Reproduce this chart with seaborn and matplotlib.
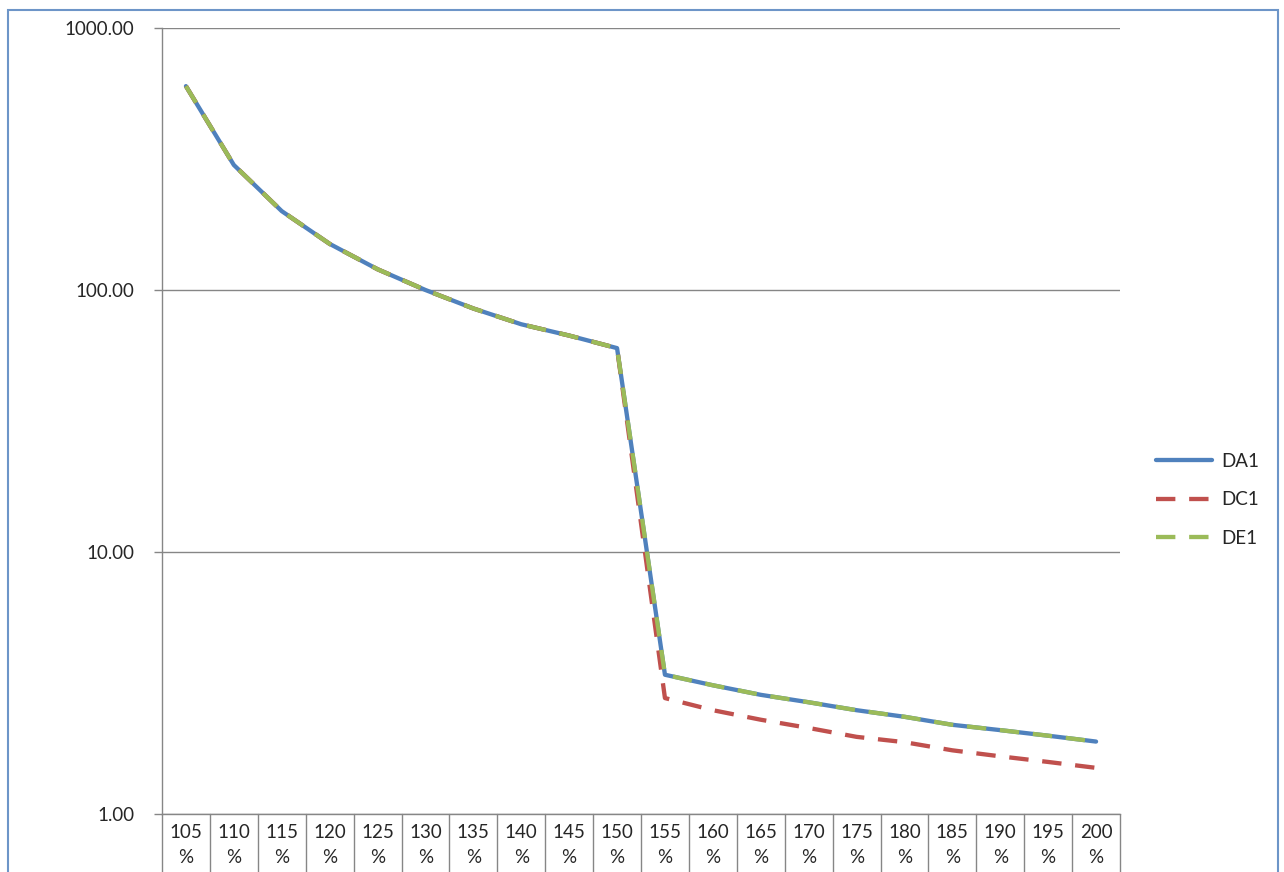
import matplotlib
matplotlib.use("Agg")
import numpy as np
import pandas as pd
import matplotlib.pyplot as plt
import matplotlib.transforms as mtransforms
from matplotlib.patches import Rectangle
import seaborn as sns

# data
categories = ["105%", "110%", "115%", "120%", "125%", "130%", "135%", "140%", "145%", "150%",
              "155%", "160%", "165%", "170%", "175%", "180%", "185%", "190%", "195%", "200%"]
tick_labels = ["105\n%", "110\n%", "115\n%", "120\n%", "125\n%", "130\n%", "135\n%", "140\n%",
               "145\n%", "150\n%", "155\n%", "160\n%", "165\n%", "170\n%", "175\n%", "180\n%",
               "185\n%", "190\n%", "195\n%", "200\n%"]
da1 = [600, 300, 200, 150, 120, 100, 85, 74, 67, 60,
       3.4, 3.1, 2.85, 2.67, 2.49, 2.35, 2.19, 2.09, 1.99, 1.89]
dc1 = [600, 300, 200, 150, 120, 100, 85, 74, 67, 60,
       2.77, 2.49, 2.29, 2.13, 1.97, 1.88, 1.75, 1.66, 1.58, 1.5]
de1 = [600, 300, 200, 150, 120, 100, 85, 74, 67, 60,
       3.4, 3.1, 2.85, 2.67, 2.49, 2.35, 2.19, 2.09, 1.99, 1.89]

series_names = ["DA1", "DC1", "DE1"]
colors = ["#4F81BD", "#C0504D", "#9BBB59"]

sns.set_theme(style="white")
plt.rcParams['font.family'] = ['Lato', 'DejaVu Sans']
plt.rcParams['font.size'] = 13.5

df = pd.DataFrame({
    "cat": categories * 3,
    "value": da1 + dc1 + de1,
    "series": ["DA1"] * 20 + ["DC1"] * 20 + ["DE1"] * 20,
})

fig = plt.figure(figsize=(12.84, 8.72), dpi=100)
ax = fig.add_axes([162 / 1284, 58 / 872, (1120 - 162) / 1284, (814 - 28) / 872])

sns.lineplot(data=df, x="cat", y="value", hue="series", style="series",
             palette=colors, dashes={"DA1": "", "DC1": (4.5, 3.2), "DE1": (4.5, 3.2)},
             linewidth=3.1, ax=ax, sort=False)

ax.set_yscale("log")
ax.set_ylim(1, 1000)
ax.set_xlim(-0.5, 19.5)
ax.set_yticks([1, 10, 100, 1000])
ax.set_yticklabels(["1.00", "10.00", "100.00", "1000.00"])
ax.yaxis.set_minor_locator(matplotlib.ticker.NullLocator())
ax.set_xticks(range(20))
ax.set_xticklabels(tick_labels, linespacing=1.6, fontsize=13.5)
ax.tick_params(axis="x", length=0, pad=7)
ax.tick_params(axis="y", length=6, width=1, color="#868686", direction="out", pad=14, left=True,
               labelsize=13.5)
ax.set_xlabel("")
ax.set_ylabel("")
ax.grid(axis="y", color="#868686", linewidth=1)
ax.set_axisbelow(True)

for s in ["top", "right"]:
    ax.spines[s].set_visible(False)
for s in ["left", "bottom"]:
    ax.spines[s].set_color("#868686")
    ax.spines[s].set_linewidth(1)

# table-style cell lines under the axis
trans = mtransforms.blended_transform_factory(ax.transData, ax.transAxes)
for b in np.arange(-0.5, 20, 1):
    ax.plot([b, b], [0, -0.09], transform=trans, color="#868686", linewidth=1, clip_on=False)

leg = ax.legend(loc="center left", bbox_to_anchor=(1.02, 0.40), frameon=False,
                handlelength=3.0, labelspacing=1.15, handletextpad=0.5, fontsize=13.5)

fig.patches.append(Rectangle((8 / 1284, -0.1), (1278 - 8) / 1284, 1.1 - 10 / 872,
                             transform=fig.transFigure, fill=False,
                             edgecolor="#6D95C8", linewidth=1.5))

fig.savefig("out.png", dpi=100, facecolor="white")
